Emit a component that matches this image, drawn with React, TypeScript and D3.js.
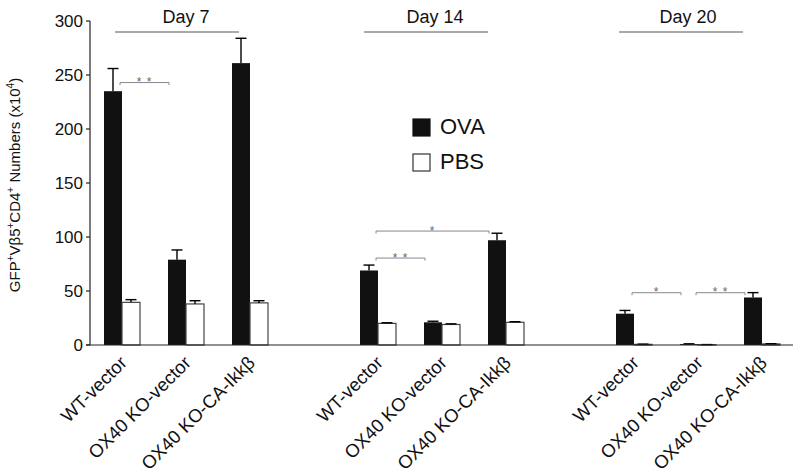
import React from "react";
import * as d3 from "d3";

const days = ["Day 7", "Day 14", "Day 20"];
const groups = ["WT-vector", "OX40 KO-vector", "OX40 KO-CA-Ikkβ"];
// values per day x group, in order Day7(WT, KO, CA), Day14(...), Day20(...)
const ovaMean = [235, 79, 261, 69, 21, 97, 29, 0.8, 44];
const ovaErr = [21, 9, 23, 5, 1, 6.5, 3, 0.3, 4.5];
const pbsMean = [39.5, 38, 39, 20, 19, 21, 0.6, 0.3, 1];
const pbsErr = [2.5, 3, 2, 0.6, 0.6, 0.6, 0.2, 0.1, 0.2];
const yTicks = [0, 50, 100, 150, 200, 250, 300];
const legendLabels = ["OVA", "PBS"];
// significance brackets
const sigDay = [0, 1, 1, 2, 2];
const sigFrom = [0, 0, 0, 0, 1];
const sigTo = [1, 1, 2, 1, 2];
const sigY = [243, 80.5, 105.5, 48.4, 48.4];
const sigLabel = ["* *", "* *", "*", "*", "* *"];

const FONT = "'Liberation Sans', Arial, Helvetica, sans-serif";

export default function App() {
  const slots = d3.range(11);
  const x = d3.scalePoint<number>().domain(slots).range([122, 762]);
  const y = d3.scaleLinear().domain([0, 300]).range([345, 21]);
  const bw = 18;
  const slotOf = (i: number) => Math.floor(i / 3) * 4 + (i % 3);
  const items = ovaMean.map((v, i) => ({
    i,
    slot: slotOf(i),
    ova: v,
    oe: ovaErr[i],
    pbs: pbsMean[i],
    pe: pbsErr[i],
    label: groups[i % 3],
  }));
  const headLineShift = [-9, -16, -17];
  const headTextShift = [0, -7, -10];
  const cap = 5.5;

  const errBar = (cx: number, v: number, e: number, key: string) => (
    <g key={key} stroke="#000" strokeWidth={1.4}>
      <line x1={cx} x2={cx} y1={y(v)} y2={y(v + e)} />
      <line x1={cx - cap} x2={cx + cap} y1={y(v + e)} y2={y(v + e)} />
    </g>
  );

  return (
    <svg
      width={800}
      height={475}
      style={{ position: "absolute", left: 0, top: 0, background: "#fff" }}
      fontFamily={FONT}
    >
      <rect width={800} height={475} fill="#fff" />
      {days.map((d, k) => {
        const mid = x(k * 4 + 1)!;
        return (
          <g key={d}>
            <text x={mid + headTextShift[k]} y={23} textAnchor="middle" fontSize={18} fill="#111">
              {d}
            </text>
            <line
              x1={mid + headLineShift[k] - 62}
              x2={mid + headLineShift[k] + 62}
              y1={32}
              y2={32}
              stroke="#aaa"
              strokeWidth={2}
            />
          </g>
        );
      })}
      {items.map((it) => {
        const cx = x(it.slot)!;
        return (
          <g key={it.i}>
            <rect x={cx - bw} y={y(it.ova)} width={bw} height={y(0) - y(it.ova)} fill="#111" />
            <rect
              x={cx}
              y={y(it.pbs)}
              width={bw}
              height={y(0) - y(it.pbs)}
              fill="#fff"
              stroke="#444"
              strokeWidth={1.2}
            />
            {errBar(cx - bw / 2, it.ova, it.oe, "o")}
            {errBar(cx + bw / 2, it.pbs, it.pe, "p")}
          </g>
        );
      })}
      {sigDay.map((d, k) => {
        const x1 = x(d * 4 + sigFrom[k])! - 2;
        const x2 = x(d * 4 + sigTo[k])! - 17;
        const yy = y(sigY[k]);
        return (
          <g key={k}>
            <path
              d={`M${x1},${yy + 2.5}V${yy}H${x2}V${yy + 2.5}`}
              fill="none"
              stroke="#888"
              strokeWidth={1}
            />
            <text
              x={(x1 + x2) / 2}
              y={yy + 3.5}
              textAnchor="middle"
              fontSize={12}
              fill="#666"
              letterSpacing={1}
            >
              {sigLabel[k]}
            </text>
          </g>
        );
      })}
      <line x1={90} x2={90} y1={y(300)} y2={y(0)} stroke="#222" strokeWidth={1.2} />
      <line x1={86} x2={793} y1={y(0)} y2={y(0)} stroke="#222" strokeWidth={1.2} />
      {yTicks.map((t) => (
        <g key={t}>
          <line x1={86} x2={90} y1={y(t)} y2={y(t)} stroke="#222" strokeWidth={1.2} />
          <text x={83} y={y(t)} dy="0.36em" textAnchor="end" fontSize={17} fill="#111">
            {t}
          </text>
        </g>
      ))}
      <text transform="translate(20,185) rotate(-90)" textAnchor="middle" fontSize={15} fill="#111">
        GFP<tspan dy={-6} fontSize={10}>+</tspan>
        <tspan dy={6}>Vβ5</tspan>
        <tspan dy={-6} fontSize={10}>+</tspan>
        <tspan dy={6}>CD4</tspan>
        <tspan dy={-6} fontSize={10}>+</tspan>
        <tspan dy={6}> Numbers (x10</tspan>
        <tspan dy={-6} fontSize={10}>4</tspan>
        <tspan dy={6}>)</tspan>
      </text>
      {items.map((it) => (
        <text
          key={it.i}
          transform={`translate(${x(it.slot)! + 6},364) rotate(-45)`}
          textAnchor="end"
          fontSize={18.5}
          fill="#111"
        >
          {it.label}
        </text>
      ))}
      {legendLabels.map((l, k) => (
        <g key={l} transform={`translate(413,${119 + k * 35})`}>
          <rect
            width={17}
            height={17}
            fill={k === 0 ? "#111" : "#fff"}
            stroke={k === 0 ? "#111" : "#333"}
            strokeWidth={1.2}
          />
          <text x={27} y={14.5} fontSize={22} fill="#111">
            {l}
          </text>
        </g>
      ))}
    </svg>
  );
}
